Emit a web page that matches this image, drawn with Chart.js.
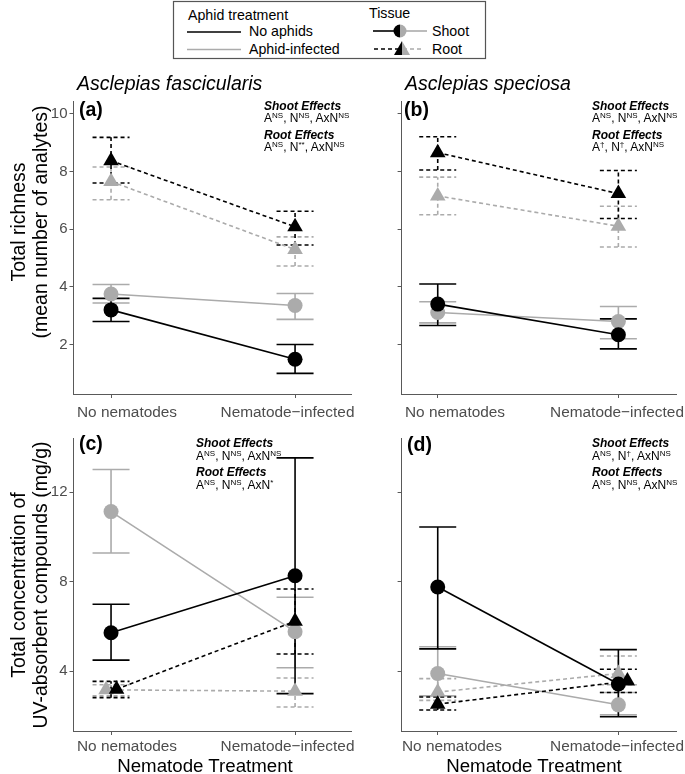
<!DOCTYPE html>
<html><head><meta charset="utf-8">
<script src="https://cdn.jsdelivr.net/npm/chart.js@4.4.0/dist/chart.umd.min.js"></script>
<style>
html,body{margin:0;padding:0;background:#fff;}
body{width:685px;height:774px;position:relative;overflow:hidden;font-family:"Liberation Sans",Arial,Helvetica,sans-serif;color:#000;}
.t{position:absolute;white-space:nowrap;line-height:1;}
canvas{position:absolute;}
sup{font-size:8px;vertical-align:0;position:relative;top:-4px;}
</style></head><body>
<svg id="leg" width="685" height="62" style="position:absolute;left:0;top:0"></svg>
<canvas id="ca"></canvas><canvas id="cb"></canvas><canvas id="cc"></canvas><canvas id="cd"></canvas>
<script>
// ---------------- data ----------------
const categories = ['No nematodes', 'Nematode\u2212infected'];
const species = ['Asclepias fascicularis', 'Asclepias speciosa'];
const panelLetters = ['(a)', '(b)', '(c)', '(d)'];
const yTitleRich = ['Total richness', '(mean number of analytes)'];
const yTitleUV = ['Total concentration of', 'UV-absorbent compounds (mg/g)'];
const xTitle = 'Nematode Treatment';
const richTicks = [2, 4, 6, 8, 10];
const uvTicks = [4, 8, 12];
const legendAphidTitle = 'Aphid treatment';
const legendAphid = ['No aphids', 'Aphid-infected'];
const legendTissueTitle = 'Tissue';
const legendTissue = ['Shoot', 'Root'];

// panel (a) A. fascicularis, richness
const aShootNoAph = [3.20, 1.49], aShootNoAphLo = [2.80, 1.00], aShootNoAphHi = [3.60, 2.00];
const aShootAph   = [3.75, 3.35], aShootAphLo   = [3.44, 2.87], aShootAphHi   = [4.08, 3.77];
const aRootNoAph  = [8.37, 6.08], aRootNoAphLo  = [7.60, 5.45], aRootNoAphHi  = [9.18, 6.62];
const aRootAph    = [7.65, 5.29], aRootAphLo    = [7.02, 4.72], aRootAphHi    = [8.15, 5.73];
// panel (b) A. speciosa, richness
const bShootNoAph = [3.40, 2.34], bShootNoAphLo = [2.66, 1.85], bShootNoAphHi = [4.10, 2.89];
const bShootAph   = [3.11, 2.80], bShootAphLo   = [2.75, 2.20], bShootAphHi   = [3.48, 3.32];
const bRootNoAph  = [8.65, 7.23], bRootNoAphLo  = [8.05, 6.37], bRootNoAphHi  = [9.20, 8.03];
const bRootAph    = [7.15, 6.10], bRootAphLo    = [6.50, 5.38], bRootAphHi    = [7.80, 6.79];
// panel (c) A. fascicularis, UV-absorbent
const cShootNoAph = [5.72, 8.27], cShootNoAphLo = [4.50, 3.00], cShootNoAphHi = [7.00, 13.54];
const cShootAph   = [11.14, 5.77], cShootAphLo  = [9.29, 4.16], cShootAphHi   = [13.02, 7.31];
const cRootNoAph  = [3.20, 6.24], cRootNoAphLo  = [2.82, 4.77], cRootNoAphHi  = [3.55, 7.68];
const cRootAph    = [3.17, 3.11], cRootAphLo    = [2.90, 2.40], cRootAphHi    = [3.40, 3.70];
// panel (d) A. speciosa, UV-absorbent
const dShootNoAph = [7.77, 3.43], dShootNoAphLo = [5.00, 1.97], dShootNoAphHi = [10.45, 4.97];
const dShootAph   = [3.90, 2.50], dShootAphLo   = [2.90, 2.05], dShootAphHi   = [5.10, 3.05];
const dRootNoAph  = [2.53, 3.56], dRootNoAphLo  = [2.27, 3.05], dRootNoAphHi  = [2.85, 4.09];
const dRootAph    = [3.07, 3.90], dRootAphLo    = [2.70, 3.40], dRootAphHi    = [3.67, 4.68];

// statistics annotations: [letter, superscript]
const shootEffects = [
  [['A','NS'],['N','NS'],['AxN','NS']],
  [['A','NS'],['N','NS'],['AxN','NS']],
  [['A','NS'],['N','NS'],['AxN','NS']],
  [['A','NS'],['N','\u2020'],['AxN','NS']]
];
const rootEffects = [
  [['A','NS'],['N','**'],['AxN','NS']],
  [['A','\u2020'],['N','\u2020'],['AxN','NS']],
  [['A','NS'],['N','NS'],['AxN','*']],
  [['A','NS'],['N','NS'],['AxN','NS']]
];

// ---------------- styles ----------------
const BLACK = '#000000', GRAY = '#ababab', AXIS = '#595959', TICKTXT = '#4d4d4d';
const FONT = '"Liberation Sans", Arial, Helvetica, sans-serif';
const CAP = 18.5, LW = 1.6, DASH = [4, 3];

function series(vals, lo, hi, aphid, root, dodge) {
  return {vals, lo, hi, color: aphid ? GRAY : BLACK, root, dodge: dodge || [0, 0]};
}

const errPlugin = {
  id: 'errbars',
  beforeDatasetsDraw(chart) {
    const ctx = chart.ctx, xs = chart.scales.x, ys = chart.scales.y;
    const dss = chart.data.datasets.slice().reverse();
    dss.forEach(ds => {
      ds.errLo.forEach((lo, i) => {
        const px = xs.getPixelForValue(i + 1);
        const yl = ys.getPixelForValue(lo), yh = ys.getPixelForValue(ds.errHi[i]);
        ctx.save();
        ctx.strokeStyle = ds.borderColor;
        ctx.lineWidth = LW;
        ctx.setLineDash(ds.borderDash || []);
        ctx.beginPath();
        ctx.moveTo(px, yl); ctx.lineTo(px, yh);
        ctx.moveTo(px - CAP, yl); ctx.lineTo(px + CAP, yl);
        ctx.moveTo(px - CAP, yh); ctx.lineTo(px + CAP, yh);
        ctx.stroke();
        ctx.restore();
      });
    });
  }
};

function makeChart(id, geo, list) {
  const cv = document.getElementById(id);
  cv.style.left = geo.left + 'px'; cv.style.top = geo.top + 'px';
  cv.width = geo.w; cv.height = geo.h;
  cv.style.width = geo.w + 'px'; cv.style.height = geo.h + 'px';
  const datasets = list.map(s => ({
    data: s.vals.map((v, i) => ({x: i + 1 + s.dodge[i], y: v})),
    errLo: s.lo, errHi: s.hi,
    borderColor: s.color, backgroundColor: s.color,
    borderWidth: LW, borderDash: s.root ? DASH : [],
    pointStyle: s.root ? 'triangle' : 'circle',
    pointRadius: s.root ? 9 : 7.5, pointBorderWidth: 0,
    pointBackgroundColor: s.color, tension: 0, clip: false
  }));
  return new Chart(cv, {
    type: 'line',
    data: {datasets},
    plugins: [errPlugin],
    options: {
      responsive: false, animation: false, devicePixelRatio: 1,
      layout: {padding: {top: geo.padTop, right: geo.padRight, left: 0, bottom: 0}},
      plugins: {legend: {display: false}, tooltip: {enabled: false}},
      scales: {
        x: {
          type: 'linear', min: geo.xMin, max: geo.xMax,
          afterBuildTicks: s => { s.ticks = categories.map((c, i) => ({value: i + 1})); },
          ticks: {callback: () => '', font: {size: 1}, padding: 0},
          grid: {drawOnChartArea: false, drawTicks: true, tickLength: 4, color: AXIS, lineWidth: 1},
          border: {display: true, color: AXIS, width: 1},
          afterFit: s => { s.height = geo.xH; }
        },
        y: {
          type: 'linear', min: geo.yMin, max: geo.yMax,
          afterBuildTicks: s => { s.ticks = geo.yTicks.map(v => ({value: v})); },
          ticks: {callback: v => geo.yLabels ? String(v) : '', color: TICKTXT, font: {size: 15, family: FONT}, padding: 2},
          grid: {drawOnChartArea: false, drawTicks: true, tickLength: 4, color: AXIS, lineWidth: 1},
          border: {display: true, color: AXIS, width: 1},
          afterFit: s => { s.width = geo.yW; }
        }
      }
    }
  });
}

// panel geometry
const gA = {left: 0, top: 90, w: 360, h: 336, padTop: 8, padRight: 6, yW: 73.5, xH: 32, xMin: 0.796, xMax: 2.304, yMin: 0.285, yMax: 10.44, yTicks: richTicks, yLabels: true};
const gB = {left: 330, top: 90, w: 355, h: 336, padTop: 8, padRight: 0, yW: 71.6, xH: 32, xMin: 0.8, xMax: 2.319, yMin: 0.285, yMax: 10.44, yTicks: richTicks, yLabels: false};
const gC = {left: 0, top: 427, w: 360, h: 320, padTop: 8, padRight: 6, yW: 73.5, xH: 16, xMin: 0.796, xMax: 2.304, yMin: 1.33, yMax: 14.43, yTicks: uvTicks, yLabels: true};
const gD = {left: 330, top: 427, w: 355, h: 320, padTop: 8, padRight: 0, yW: 71.6, xH: 16, xMin: 0.8, xMax: 2.319, yMin: 1.33, yMax: 14.43, yTicks: uvTicks, yLabels: false};

makeChart('ca', gA, [
  series(aShootNoAph, aShootNoAphLo, aShootNoAphHi, false, false),
  series(aRootNoAph, aRootNoAphLo, aRootNoAphHi, false, true),
  series(aShootAph, aShootAphLo, aShootAphHi, true, false),
  series(aRootAph, aRootAphLo, aRootAphHi, true, true)
]);
makeChart('cb', gB, [
  series(bShootNoAph, bShootNoAphLo, bShootNoAphHi, false, false),
  series(bRootNoAph, bRootNoAphLo, bRootNoAphHi, false, true),
  series(bShootAph, bShootAphLo, bShootAphHi, true, false),
  series(bRootAph, bRootAphLo, bRootAphHi, true, true)
]);
makeChart('cc', gC, [
  series(cShootNoAph, cShootNoAphLo, cShootNoAphHi, false, false),
  series(cRootNoAph, cRootNoAphLo, cRootNoAphHi, false, true, [0.03, 0]),
  series(cShootAph, cShootAphLo, cShootAphHi, true, false),
  series(cRootAph, cRootAphLo, cRootAphHi, true, true, [-0.027, 0])
]);
makeChart('cd', gD, [
  series(dShootNoAph, dShootNoAphLo, dShootNoAphHi, false, false),
  series(dRootNoAph, dRootNoAphLo, dRootNoAphHi, false, true, [0, 0.05]),
  series(dShootAph, dShootAphLo, dShootAphHi, true, false),
  series(dRootAph, dRootAphLo, dRootAphHi, true, true)
]);

// ---------------- text ----------------
function addText(txt, x, y, opts) {
  const d = document.createElement('div');
  d.className = 't';
  if (opts.html) d.innerHTML = txt; else d.textContent = txt;
  d.style.left = x + 'px'; d.style.top = y + 'px';
  d.style.fontSize = opts.size + 'px';
  if (opts.italic) d.style.fontStyle = 'italic';
  if (opts.bold) d.style.fontWeight = 'bold';
  if (opts.color) d.style.color = opts.color;
  let tr = opts.anchor === 'left' ? 'translate(0,-50%)' : 'translate(-50%,-50%)';
  if (opts.rotate) tr += ' rotate(-90deg)';
  d.style.transform = tr;
  document.body.appendChild(d);
}

// species titles
addText(species[0], 77, 84, {size: 19.5, italic: true, anchor: 'left'});
addText(species[1], 405, 84, {size: 19.5, italic: true, anchor: 'left'});
// panel letters
const letterPos = [[79, 110], [404, 110], [79, 444], [407, 445]];
panelLetters.forEach((l, i) => addText(l, letterPos[i][0], letterPos[i][1], {size: 19.5, bold: true, anchor: 'left'}));
// y titles
addText(yTitleRich[0], 19, 222, {size: 19.5, rotate: true});
addText(yTitleRich[1], 41, 222, {size: 19.5, rotate: true});
addText(yTitleUV[0], 19, 585, {size: 19.5, rotate: true});
addText(yTitleUV[1], 41, 585, {size: 19.5, rotate: true});
// x tick labels
const tickLabelX = [[127, 287.5], [455, 617], [127, 287.5], [452, 617]];
const tickLabelY = [412, 412, 746, 746];
tickLabelX.forEach((xs, p) => xs.forEach((x, i) => addText(categories[i], x, tickLabelY[p], {size: 15.4, color: TICKTXT})));
// x titles
addText(xTitle, 205, 766, {size: 18.7});
addText(xTitle, 534, 766, {size: 18.7});
// statistics annotations
function effHtml(arr) { return arr.map(e => e[0] + '<sup>' + e[1] + '</sup>').join(', '); }
const annPos = [[264, 106], [592, 106], [196, 443], [592, 443]];
annPos.forEach((p, i) => {
  const dy = i < 2 ? [0, 12, 29, 41] : [0, 13, 29, 42];
  addText('Shoot Effects', p[0], p[1] + dy[0], {size: 12, bold: true, italic: true, anchor: 'left'});
  addText(effHtml(shootEffects[i]), p[0], p[1] + dy[1], {size: 12, html: true, anchor: 'left'});
  addText('Root Effects', p[0], p[1] + dy[2], {size: 12, bold: true, italic: true, anchor: 'left'});
  addText(effHtml(rootEffects[i]), p[0], p[1] + dy[3], {size: 12, html: true, anchor: 'left'});
});

// ---------------- legend ----------------
(function () {
  const svg = document.getElementById('leg');
  const NS = 'http://www.w3.org/2000/svg';
  function el(tag, attrs, text) {
    const e = document.createElementNS(NS, tag);
    for (const k in attrs) e.setAttribute(k, attrs[k]);
    if (text) e.textContent = text;
    svg.appendChild(e);
    return e;
  }
  el('rect', {x: 173.5, y: 1.5, width: 312, height: 57, fill: 'none', stroke: '#555', 'stroke-width': 1.2});
  const fs = 14.2;
  el('text', {x: 188, y: 20, 'font-size': fs, 'font-family': FONT}, legendAphidTitle);
  el('line', {x1: 187, y1: 32, x2: 241, y2: 32, stroke: BLACK, 'stroke-width': LW});
  el('text', {x: 249, y: 36, 'font-size': fs, 'font-family': FONT}, legendAphid[0]);
  el('line', {x1: 187, y1: 49.5, x2: 241, y2: 49.5, stroke: GRAY, 'stroke-width': LW});
  el('text', {x: 249, y: 54, 'font-size': fs, 'font-family': FONT}, legendAphid[1]);
  el('text', {x: 369, y: 18, 'font-size': fs, 'font-family': FONT}, legendTissueTitle);
  // shoot symbol
  el('line', {x1: 373, y1: 31, x2: 400, y2: 31, stroke: BLACK, 'stroke-width': LW});
  el('line', {x1: 400, y1: 31, x2: 427, y2: 31, stroke: GRAY, 'stroke-width': LW});
  el('path', {d: 'M400,24.5 A6.5,6.5 0 0 0 400,37.5 Z', fill: BLACK});
  el('path', {d: 'M400,24.5 A6.5,6.5 0 0 1 400,37.5 Z', fill: GRAY});
  el('text', {x: 432, y: 36, 'font-size': fs, 'font-family': FONT}, legendTissue[0]);
  // root symbol
  el('line', {x1: 374, y1: 49, x2: 401, y2: 49, stroke: BLACK, 'stroke-width': LW, 'stroke-dasharray': '4 3'});
  el('line', {x1: 403, y1: 49, x2: 424, y2: 49, stroke: GRAY, 'stroke-width': LW, 'stroke-dasharray': '4 3'});
  el('path', {d: 'M402,41 L394,55 L402,55 Z', fill: BLACK});
  el('path', {d: 'M402,41 L410,55 L402,55 Z', fill: GRAY});
  el('text', {x: 432, y: 54, 'font-size': fs, 'font-family': FONT}, legendTissue[1]);
})();
</script>
</body></html>
